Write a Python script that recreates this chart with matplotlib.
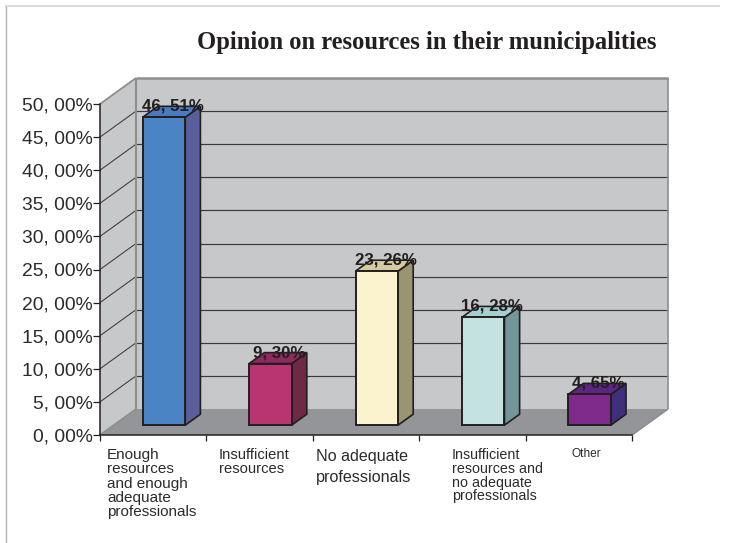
import matplotlib
matplotlib.use("Agg")
import matplotlib.pyplot as plt
from matplotlib.lines import Line2D

W, H = 729, 543

categories = ["Enough\nresources\nand enough\nadequate\nprofessionals",
              "Insufficient\nresources",
              "No adequate\nprofessionals",
              "Insufficient\nresources and\nno adequate\nprofessionals",
              "Other"]
values = [46.51, 9.30, 23.26, 16.28, 4.65]
value_labels = ["46, 51%", "9, 30%", "23, 26%", "16, 28%", "4, 65%"]
y_ticks = [0, 5, 10, 15, 20, 25, 30, 35, 40, 45, 50]
y_tick_labels = ["0, 00%", "5, 00%", "10, 00%", "15, 00%", "20, 00%", "25, 00%",
                 "30, 00%", "35, 00%", "40, 00%", "45, 00%", "50, 00%"]

front_colors = ["#4A84C5", "#B83571", "#FAF3CD", "#C3E2E0", "#7D2A8B"]
side_colors = ["#5A5F9C", "#6E2A45", "#9A9472", "#73969A", "#3F2F78"]
top_colors = ["#4A7BBE", "#8F2A5C", "#D6CB9E", "#A6CFCF", "#5F2481"]

# pixel position, font size, line spacing of each category label
label_x = [107, 219, 316, 452, 572]
label_y = [448, 448, 449, 448, 448]
label_size = [11, 10.6, 11.6, 10.3, 8.6]
label_space = [1.03, 1.03, 1.5, 0.98, 1.0]

WALL = "#C7C8CA"
FLOOR = "#939598"
EDGE = "#8C8E90"
GRID = "#3A3A3C"
DARK = "#231F20"

plt.rcParams["font.family"] = ["Liberation Sans", "DejaVu Sans"]

fig = plt.figure(figsize=(W / 100, H / 100), dpi=100)
ax = fig.add_axes([100 / W, (H - 435) / H, 532 / W, 331 / H])
ax.set_xlim(0, 5)
ax.set_ylim(0, 50)
ax.patch.set_alpha(0)

# depth of the 3d box, in data units
depth_x = 36 / (532 / 5)
depth_y = 26 / (331 / 50)


def project(x, y, d):
    return x + d * depth_x, y + d * depth_y


def face(points, color, z, edge="none", lw=0):
    xs, ys = zip(*points)
    ax.fill(xs, ys, facecolor=color, edgecolor=edge, linewidth=lw, zorder=z,
            clip_on=False, joinstyle="miter")


def segment(p, q, color, lw, z):
    ax.add_line(Line2D([p[0], q[0]], [p[1], q[1]], color=color, lw=lw, zorder=z,
                       clip_on=False, solid_capstyle="butt"))


# walls and floor
face([project(0, 0, 0), project(0, 50, 0), project(0, 50, 1), project(0, 0, 1)], WALL, 1)
face([project(0, 0, 1), project(0, 50, 1), project(5, 50, 1), project(5, 0, 1)], WALL, 1)
face([project(0, 0, 0), project(0, 0, 1), project(5, 0, 1), project(5, 0, 0)], FLOOR, 1)

for t in y_ticks[1:-1]:
    segment(project(0, t, 0), project(0, t, 1), GRID, 0.75, 2)
    segment(project(0, t, 1), project(5, t, 1), GRID, 0.85, 2)

segment(project(0, 50, 0), project(0, 50, 1), EDGE, 1.3, 2)
segment(project(0, 50, 1), project(5, 50, 1), EDGE, 1.8, 2)
segment(project(0, 0, 1), project(0, 50, 1), EDGE, 1.5, 2)
segment(project(5, 0, 1), project(5, 50, 1), EDGE, 1.2, 2)
segment(project(0, 0, 0), project(0, 0, 1), EDGE, 1.2, 2)
segment(project(5, 0, 0), project(5, 0, 1), EDGE, 1.2, 2)

# bars
bar_w = 0.4
near, far = 0.38, 0.8
for i, v in enumerate(values):
    x0 = i + 0.5 - 0.027 - bar_w / 2
    x1 = x0 + bar_w
    z = 3 + i
    face([project(x1, 0, near), project(x1, v, near), project(x1, v, far), project(x1, 0, far)],
         side_colors[i], z, DARK, 1.2)
    face([project(x0, v, near), project(x0, v, far), project(x1, v, far), project(x1, v, near)],
         top_colors[i], z, DARK, 1.2)
    face([project(x0, 0, near), project(x0, v, near), project(x1, v, near), project(x1, 0, near)],
         front_colors[i], z, DARK, 1.4)
    lx = project((x0 + x1) / 2, 0, 0.62)[0]
    ly = project(0, v, far)[1]
    ax.text(lx, ly, value_labels[i], ha="center", va="center", fontsize=12.2,
            fontweight="bold", color="#231F20", zorder=10, clip_on=False)

# axes
for s in ["top", "right"]:
    ax.spines[s].set_visible(False)
for s in ["left", "bottom"]:
    ax.spines[s].set_color(DARK)
    ax.spines[s].set_linewidth(1.1)
    ax.spines[s].set_zorder(3)
ax.set_yticks(y_ticks)
ax.set_yticklabels(y_tick_labels)
ax.set_xticks(range(6))
ax.set_xticklabels([])
ax.tick_params(axis="y", length=5, width=0.9, color=DARK, pad=0, labelsize=13.9, labelcolor="#2B2B2B")
ax.tick_params(axis="x", length=4, width=0.9, color=DARK)

for i, name in enumerate(categories):
    fig.text(label_x[i] / W, 1 - label_y[i] / H, name, ha="left", va="top",
             fontsize=label_size[i], linespacing=label_space[i], color="#2B2B2B")

fig.text(427 / W, 1 - 43 / H, "Opinion on resources in their municipalities", ha="center", va="center",
         fontsize=17.7, fontweight="bold", family=["Liberation Serif", "DejaVu Serif"], color=DARK)

# page frame
fig.add_artist(Line2D([5.5 / W, 5.5 / W], [0, 1 - 5.5 / H], color="#B5B5B5", lw=1))
fig.add_artist(Line2D([5.5 / W, 719 / W], [1 - 5.5 / H, 1 - 5.5 / H], color="#D8D8D8", lw=1.3))

fig.savefig("out.png", dpi=100)
